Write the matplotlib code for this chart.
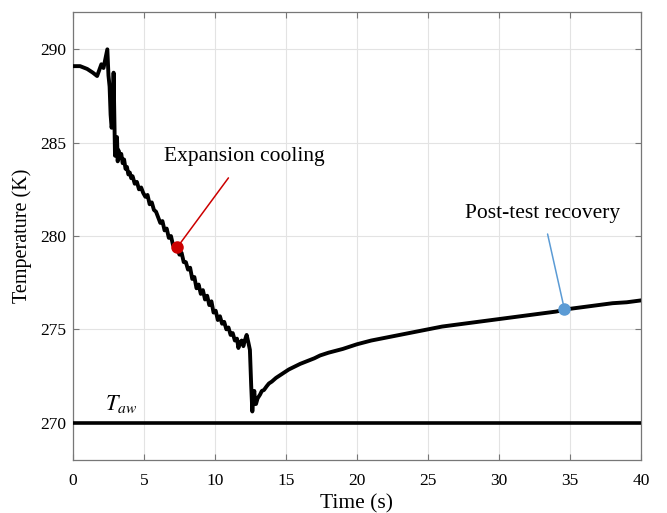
import matplotlib
matplotlib.use("Agg")
import matplotlib.pyplot as plt

plt.rcParams["font.family"] = ["Liberation Serif", "DejaVu Serif"]
plt.rcParams["mathtext.fontset"] = "stix"

# surface temperature trace (s, K)
time_s = [0, 0.5, 1.0, 1.4, 1.7, 2.0, 2.15, 2.42, 2.5, 2.58, 2.65, 2.72, 2.8, 2.86,
          2.92, 2.96, 3.0, 3.05, 3.1, 3.15, 3.2, 3.3, 3.4, 3.5, 3.6, 3.7, 3.8, 3.9,
          4.0, 4.1, 4.2, 4.35, 4.5, 4.65, 4.8, 4.95, 5.1, 5.25, 5.4, 5.55, 5.7, 5.85,
          6.0, 6.15, 6.3, 6.45, 6.6, 6.75, 6.9, 7.05, 7.2, 7.35, 7.5, 7.65, 7.8, 7.95,
          8.1, 8.25, 8.4, 8.55, 8.7, 8.85, 9.0, 9.15, 9.3, 9.45, 9.6, 9.75, 9.9, 10.05,
          10.2, 10.35, 10.5, 10.65, 10.8, 10.95, 11.1, 11.25, 11.4, 11.55, 11.65, 11.75,
          11.88, 12.0, 12.1, 12.23, 12.35, 12.46, 12.55, 12.63, 12.7, 12.77, 12.83,
          12.89, 13.0, 13.17, 13.3, 13.45, 13.64, 13.8, 14.0, 14.3, 14.5, 14.81, 15.2,
          15.6, 16.0, 16.5, 17.0, 17.4, 18.0, 19.0, 20.0, 21.0, 22.0, 23.0, 24.0, 25.0,
          26.0, 27.0, 28.0, 29.0, 30.0, 31.0, 32.0, 33.0, 34.0, 35.0, 36.0, 37.0, 38.0,
          39.0, 40.0]
temp_k = [289.1, 289.1, 288.95, 288.75, 288.57, 289.2, 289.0, 290.0, 288.6, 288.0,
          286.5, 285.8, 286.2, 288.75, 286.0, 284.3, 285.2, 284.6, 285.3, 284.0, 284.6,
          284.2, 284.4, 283.9, 284.1, 283.6, 283.7, 283.3, 283.4, 283.1, 283.2, 282.8,
          282.9, 282.5, 282.6, 282.3, 282.1, 282.2, 281.7, 281.8, 281.4, 281.3, 281.0,
          280.7, 280.8, 280.3, 280.4, 279.9, 280.0, 279.5, 279.5, 279.3, 279.0, 279.1,
          278.6, 278.6, 278.2, 278.3, 277.7, 277.8, 277.2, 277.4, 276.9, 277.1, 276.6,
          276.8, 276.3, 276.5, 275.9, 276.0, 275.5, 275.7, 275.3, 275.4, 275.0, 275.1,
          274.7, 274.8, 274.4, 274.5, 274.0, 274.3, 274.4, 274.1, 274.4, 274.7, 274.3,
          273.9, 272.0, 270.6, 271.4, 271.7, 271.0, 271.0, 271.3, 271.5, 271.7, 271.75,
          271.95, 272.1, 272.2, 272.4, 272.5, 272.65, 272.85, 273.0, 273.15, 273.3,
          273.45, 273.6, 273.75, 273.95, 274.2, 274.4, 274.55, 274.7, 274.85, 275.0,
          275.15, 275.25, 275.35, 275.45, 275.55, 275.65, 275.75, 275.85, 275.95, 276.1,
          276.2, 276.3, 276.4, 276.45, 276.55]

T_AW = 270.0
cooling_pt = (7.35, 279.4)
recovery_pt = (34.6, 276.1)

fig = plt.figure(figsize=(6.67, 5.13), dpi=100)
ax = fig.add_axes([0.1094, 0.1033, 0.8516, 0.8733])

ax.plot(time_s, temp_k, color="black", lw=2.8, zorder=3)
ax.axhline(T_AW, color="black", lw=2.6, zorder=3)

ax.plot(*cooling_pt, "o", color="#cc0000", ms=8, zorder=4)
ax.annotate("Expansion cooling", xy=cooling_pt, xytext=(12.05, 284.25),
            ha="center", va="center", fontsize=15.5,
            arrowprops=dict(arrowstyle="-", color="#cc0000", lw=1.1,
                            shrinkA=8, shrinkB=0))
ax.plot(*recovery_pt, "o", color="#5b9bd5", ms=8, zorder=4)
ax.annotate("Post-test recovery", xy=recovery_pt, xytext=(33.1, 281.2),
            ha="center", va="center", fontsize=15.5,
            arrowprops=dict(arrowstyle="-", color="#5b9bd5", lw=1.1,
                            shrinkA=6, shrinkB=0))
ax.text(3.4, 271.0, r"$T_{aw}$", ha="center", va="center", fontsize=16)

ax.set_xlim(0, 40)
ax.set_ylim(268, 292)
ax.set_xticks(range(0, 41, 5))
ax.set_yticks(range(270, 291, 5))
ax.grid(True, color="#e3e3e3", lw=0.8)
ax.set_axisbelow(True)
ax.tick_params(direction="in", top=True, right=True, labelsize=12.5, length=4,
               color="#777777")
ax.tick_params(axis="x", pad=9)
ax.tick_params(axis="y", pad=5)
for s in ax.spines.values():
    s.set_color("#777777")
    s.set_linewidth(0.9)
ax.set_xlabel("Time (s)", fontsize=15.5, labelpad=4)
ax.set_ylabel("Temperature (K)", fontsize=14.5, labelpad=6)

fig.savefig("out.png", dpi=100)
